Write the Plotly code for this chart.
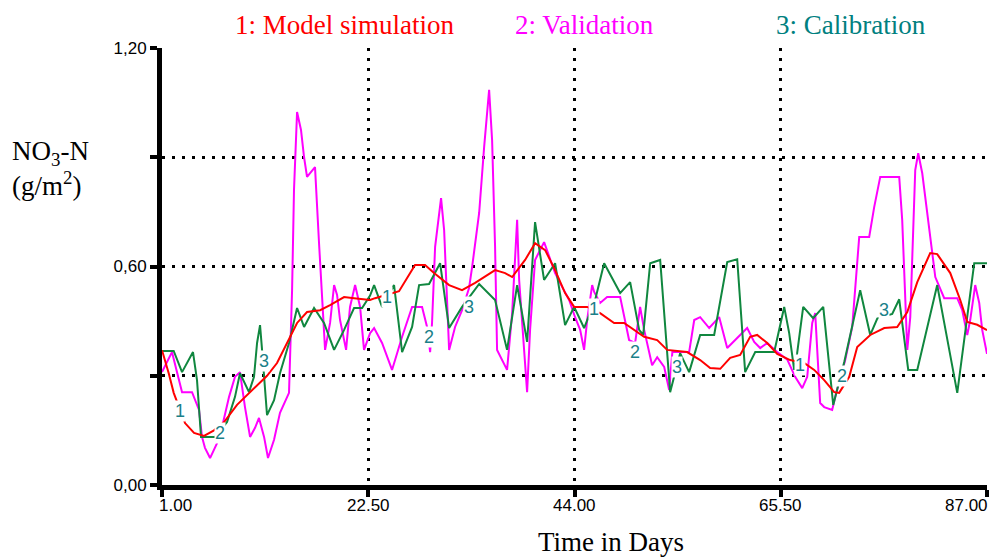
import plotly.graph_objects as go

# ---------------- data ----------------
model_days = [1.0, 1.70, 2.22, 2.56, 3.40, 4.34, 5.38, 6.42, 7.47, 8.82, 10.18, 11.95, 12.99,
              14.03, 15.08, 16.12, 17.48, 18.52, 19.98, 21.02, 22.69, 23.21, 25.71, 27.38,
              28.42, 29.36, 30.93, 32.28, 33.64, 35.72, 36.77, 37.50, 38.85, 39.89, 40.94,
              41.98, 43.02, 43.96, 45.32, 46.67, 48.13, 49.17, 50.22, 51.26, 52.62, 53.66,
              55.74, 57.10, 58.14, 59.19, 60.23, 61.27, 62.31, 63.04, 64.09, 65.13, 66.48,
              67.94, 68.99, 70.03, 71.07, 71.59, 72.64, 73.47, 74.83, 76.29, 77.64, 78.69,
              79.73, 81.08, 81.81, 83.17, 84.21, 84.94, 85.98, 87.0]
model_vals = [0.37, 0.307, 0.253, 0.228, 0.17, 0.143, 0.135, 0.15, 0.173, 0.22, 0.255, 0.30, 0.335,
              0.39, 0.445, 0.475, 0.48, 0.494, 0.516, 0.513, 0.508, 0.513, 0.532, 0.604,
              0.604, 0.582, 0.549, 0.535, 0.555, 0.59, 0.582, 0.571, 0.618, 0.664, 0.645,
              0.59, 0.527, 0.489, 0.489, 0.472, 0.445, 0.445, 0.426, 0.407, 0.398, 0.371,
              0.365, 0.343, 0.321, 0.319, 0.349, 0.357, 0.407, 0.412, 0.39, 0.36, 0.343,
              0.335, 0.316, 0.288, 0.255, 0.253, 0.297, 0.379, 0.412, 0.431, 0.434, 0.475,
              0.557, 0.637, 0.634, 0.582, 0.508, 0.448, 0.44, 0.425]

valid_days = [1.0, 2.04, 2.56, 3.09, 4.13, 4.86, 5.17, 5.48, 6.01, 6.74, 7.26, 7.99, 8.61, 9.13,
              9.65, 10.18, 10.70, 11.11, 11.64, 12.05, 12.68, 13.30, 14.24, 14.56, 14.76,
              15.08, 15.49, 15.81, 16.12, 16.95, 17.37, 17.68, 18.00, 18.52, 18.94, 19.25,
              19.56, 20.19, 20.60, 21.13, 21.65, 22.06, 22.69, 23.11, 23.94, 24.98, 26.03,
              27.07, 28.11, 28.63, 28.95, 29.15, 29.47, 30.09, 30.41, 30.93, 31.55, 32.28,
              33.01, 33.33, 34.06, 34.58, 35.10, 35.41, 35.72, 35.93, 36.97, 37.50, 38.02,
              38.23, 38.75, 39.06, 39.37, 39.89, 40.83, 41.35, 41.98, 42.71, 43.44, 44.07,
              44.59, 45.00, 45.32, 45.84, 46.05, 46.67, 47.40, 48.76, 49.27, 49.69, 50.32,
              50.84, 51.26, 52.09, 52.62, 53.35, 53.87, 54.20, 55.95, 56.48, 57.10, 58.04,
              59.08, 59.92, 61.27, 62.00, 62.73, 63.36, 64.09, 65.13, 66.17, 67.00, 67.74,
              68.26, 68.78, 69.09, 69.61, 70.03, 70.86, 71.28, 72.22, 72.95, 73.68, 74.72,
              75.24, 75.87, 77.85, 78.16, 78.69, 79.00, 79.52, 79.83, 80.25, 81.29, 81.61,
              82.54, 83.90, 84.42, 84.94, 85.25, 85.77, 86.19, 86.50, 87.0]
valid_vals = [0.31, 0.365, 0.31, 0.255, 0.255, 0.206, 0.132, 0.102, 0.074, 0.115, 0.159, 0.242, 0.297, 0.31,
              0.214, 0.132, 0.157, 0.184, 0.132, 0.074, 0.124, 0.198, 0.253, 0.535, 0.81,
              1.024, 0.975, 0.90, 0.846, 0.873, 0.664, 0.516, 0.371, 0.445, 0.549, 0.522,
              0.453, 0.371, 0.489, 0.549, 0.489, 0.371, 0.417, 0.431, 0.39, 0.316, 0.407,
              0.489, 0.489, 0.434, 0.365, 0.445, 0.654, 0.788, 0.70, 0.371, 0.434, 0.48,
              0.541, 0.599, 0.747, 0.928, 1.085, 0.947, 0.654, 0.371, 0.316, 0.472, 0.728,
              0.563, 0.371, 0.255, 0.426, 0.618, 0.667, 0.626, 0.582, 0.544, 0.508, 0.46,
              0.426, 0.371, 0.453, 0.549, 0.53, 0.50, 0.516, 0.516, 0.453, 0.398, 0.39,
              0.489, 0.426, 0.329, 0.351, 0.324, 0.261, 0.365, 0.365, 0.453, 0.461, 0.431,
              0.461, 0.376, 0.412, 0.431, 0.393, 0.376, 0.39, 0.365, 0.345, 0.297, 0.266,
              0.297, 0.445, 0.472, 0.225, 0.214, 0.206, 0.253, 0.343, 0.434, 0.681, 0.681,
              0.763, 0.846, 0.846, 0.728, 0.371, 0.461, 0.865, 0.911, 0.856, 0.637, 0.571,
              0.513, 0.513, 0.48, 0.412, 0.453, 0.549, 0.50, 0.426, 0.36]

calib_days = [1.0, 2.22, 3.09, 3.61, 4.23, 4.65, 5.07, 6.53, 7.78, 8.61, 9.13, 10.07, 10.59,
              10.91, 11.22, 11.43, 11.95, 12.68, 13.30, 14.24, 15.08, 15.81, 16.85, 17.89,
              18.94, 19.98, 21.02, 21.86, 22.69, 23.11, 23.94, 25.19, 26.03, 27.07, 27.80,
              28.84, 29.99, 30.93, 32.28, 34.06, 35.72, 36.97, 38.02, 39.06, 39.89, 40.83,
              41.98, 43.02, 43.96, 45.00, 45.32, 46.15, 47.09, 48.76, 49.80, 50.74, 51.16,
              51.89, 52.93, 53.97, 55.01, 55.95, 57.10, 58.56, 59.92, 60.96, 61.79, 62.84,
              64.82, 65.86, 66.38, 66.90, 67.21, 67.84, 68.88, 69.93, 70.97, 72.12, 73.78,
              74.83, 75.56, 77.12, 77.85, 78.79, 79.73, 81.81, 83.90, 85.67, 87.0]
calib_vals = [0.368, 0.368, 0.31, 0.335, 0.365, 0.288, 0.132, 0.132, 0.173, 0.242, 0.307, 0.255, 0.297,
              0.39, 0.439, 0.371, 0.192, 0.233, 0.307, 0.39, 0.486, 0.434, 0.486, 0.445,
              0.371, 0.426, 0.486, 0.486, 0.52, 0.549, 0.489, 0.549, 0.365, 0.434, 0.549,
              0.552, 0.609, 0.431, 0.489, 0.552, 0.508, 0.371, 0.549, 0.393, 0.722, 0.563,
              0.609, 0.439, 0.489, 0.431, 0.453, 0.508, 0.609, 0.527, 0.557, 0.426, 0.412,
              0.609, 0.618, 0.255, 0.362, 0.31, 0.412, 0.412, 0.612, 0.62, 0.31, 0.365,
              0.365, 0.489, 0.417, 0.316, 0.362, 0.489, 0.458, 0.489, 0.22, 0.338, 0.535,
              0.412, 0.457, 0.47, 0.51, 0.316, 0.316, 0.549, 0.253, 0.609, 0.609]

series_names = ["1: Model simulation", "2: Validation", "3: Calibration"]
x_tick_vals = [1, 22.5, 44, 65.5, 87]
x_tick_text = ["1.00", "22.50", "44.00", "65.50", "87.00"]
y_label_vals = [0, 0.6, 1.2]
y_label_text = ["0,00", "0,60", "1,20"]
y_minor_vals = [0.3, 0.9]

# curve marker labels (day, value, text)
mark_days = [2.88, 7.05, 11.64, 24.46, 28.84, 33.01, 46.05, 50.32, 54.70, 67.5, 71.9, 76.3]
mark_vals = [0.203, 0.143, 0.34, 0.516, 0.406, 0.489, 0.483, 0.365, 0.324, 0.33, 0.30, 0.48]
mark_text = ["1", "2", "3"] * 4

RED, MAG, GRN, TEAL = "#ff0000", "#ff00ff", "#10873f", "#008080"
SERIF = "Liberation Serif, Times New Roman, serif"
SANS = "Liberation Sans, Arial, sans-serif"

fig = go.Figure()
fig.add_trace(go.Scatter(x=valid_days, y=valid_vals, mode="lines", name=series_names[1],
                         line=dict(color=MAG, width=2)))
fig.add_trace(go.Scatter(x=calib_days, y=calib_vals, mode="lines", name=series_names[2],
                         line=dict(color=GRN, width=2)))
fig.add_trace(go.Scatter(x=model_days, y=model_vals, mode="lines", name=series_names[0],
                         line=dict(color=RED, width=2)))

ann = []
for d, v, t in zip(mark_days, mark_vals, mark_text):
    ann.append(dict(x=d, y=v, xref="x", yref="y", text=t, showarrow=False,
                    font=dict(family=SANS, size=18, color="#1a8088"),
                    bgcolor="white", borderpad=0))

n_x = len(x_tick_vals)
for i, (xv, tt) in enumerate(zip(x_tick_vals, x_tick_text)):
    anchor = "left" if i == 0 else ("right" if i == n_x - 1 else "center")
    shift = -5 if i == 0 else (3 if i == n_x - 1 else 0)
    ann.append(dict(x=xv, y=-0.048, xref="x", yref="paper", text=tt, showarrow=False,
                    xanchor=anchor, yanchor="middle", xshift=shift,
                    font=dict(family=SANS, size=17, color="black")))

title_x = [233, 513, 774]
title_col = [RED, MAG, TEAL]
for nm, px, c in zip(series_names, title_x, title_col):
    ann.append(dict(x=(px - 162) / 825, y=1.053, xref="paper", yref="paper", text=nm,
                    showarrow=False, xanchor="left", yanchor="middle",
                    font=dict(family=SERIF, size=27, color=c)))

ann.append(dict(x=(611 - 162) / 825, y=-0.13, xref="paper", yref="paper", text="Time in Days",
                showarrow=False, xanchor="center", yanchor="middle",
                font=dict(family=SERIF, size=27, color="black")))
ann.append(dict(x=-(162 - 10) / 825, y=(485 - 168) / 437, xref="paper", yref="paper",
                text="NO<sub>3</sub>-N<br>(g/m<sup>2</sup>)", align="left",
                showarrow=False, xanchor="left", yanchor="middle",
                font=dict(family=SERIF, size=27, color="black")))

axis_common = dict(showline=True, linewidth=5, linecolor="black", ticks="outside",
                   ticklen=7, tickwidth=4, tickcolor="black", showgrid=True,
                   gridcolor="black", gridwidth=3, griddash="3px,7px", zeroline=False)

fig.update_layout(
    width=997, height=558,
    margin=dict(l=162, r=10, t=48, b=73),
    paper_bgcolor="white", plot_bgcolor="white",
    showlegend=False,
    xaxis=dict(range=[1, 87], tickvals=x_tick_vals, showticklabels=False, **axis_common),
    yaxis=dict(range=[0, 1.2], tickvals=y_label_vals, ticktext=y_label_text,
               tickfont=dict(family=SANS, size=17, color="black"),
               minor=dict(tickvals=y_minor_vals, ticks="outside", ticklen=7, tickwidth=4,
                          tickcolor="black", showgrid=True, gridcolor="black",
                          gridwidth=3, griddash="3px,7px"),
               **axis_common),
    annotations=ann,
)

fig.write_html("out.html")
